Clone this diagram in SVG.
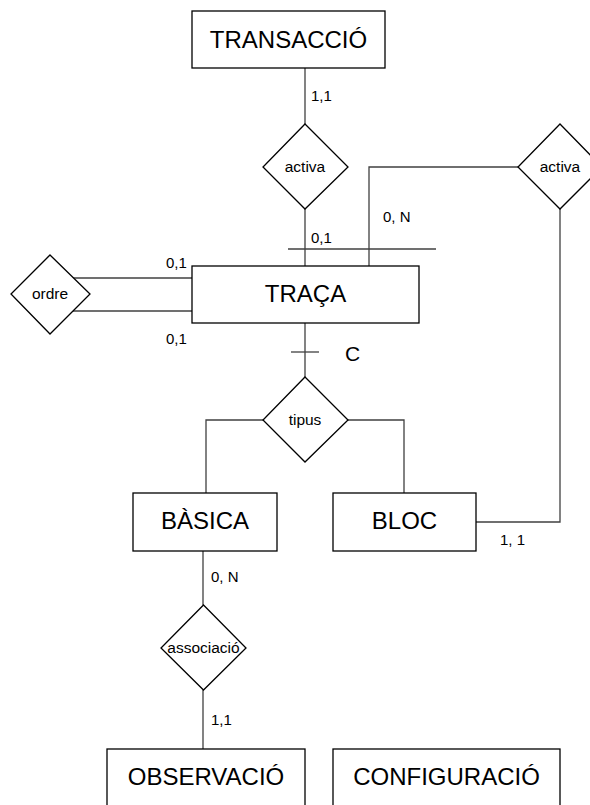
<svg xmlns="http://www.w3.org/2000/svg" width="590" height="805" viewBox="0 0 590 805">
<style>
.ent{fill:#fff;stroke:#000;stroke-width:1.3}
.rel{fill:#fff;stroke:#000;stroke-width:1.3}
.big{font-family:"Liberation Sans",Arial,sans-serif;font-size:24px;fill:#000;text-anchor:middle}
.sm{font-family:"Liberation Sans",Arial,sans-serif;font-size:15.5px;fill:#000;text-anchor:middle}
.lab{font-family:"Liberation Sans",Arial,sans-serif;font-size:15px;fill:#000}
#connectors line,#connectors polyline{stroke:#404040;stroke-width:1.3;fill:none}
</style>
<rect width="590" height="805" fill="#fff"/>
<g id="connectors">
<line x1="305" y1="68" x2="305" y2="124"/>
<line x1="305" y1="209" x2="305" y2="266"/>
<line x1="288" y1="249" x2="436" y2="249"/>
<polyline points="369,266 369,167 518,167"/>
<polyline points="560,209 560,522 476,522"/>
<line x1="73" y1="278" x2="192" y2="278"/>
<line x1="72" y1="311" x2="192" y2="311"/>
<line x1="305" y1="323" x2="305" y2="377"/>
<line x1="291" y1="352" x2="319" y2="352"/>
<polyline points="263,420 206,420 206,493"/>
<polyline points="348,420 404,420 404,493"/>
<line x1="203" y1="551" x2="203" y2="605"/>
<line x1="203" y1="690" x2="203" y2="749"/>
</g>
<g id="labels">
<text class="lab" x="311" y="101">1,1</text>
<text class="lab" x="311" y="243">0,1</text>
<text class="lab" x="383" y="222">0, N</text>
<text class="lab" x="166" y="268">0,1</text>
<text class="lab" x="166" y="344">0,1</text>
<text x="345" y="361" font-family="Liberation Sans,Arial,sans-serif" font-size="21">C</text>
<text class="lab" x="500" y="545">1, 1</text>
<text class="lab" x="211" y="582">0, N</text>
<text class="lab" x="211" y="725">1,1</text>
</g>
<g id="transaccio"><rect class="ent" x="192" y="11" width="193" height="57"/><text class="big" x="288.5" y="48">TRANSACCIÓ</text></g>
<g id="activa1"><polygon class="rel" points="305,124 348,167 305,209 263,167"/><text class="sm" x="305" y="172">activa</text></g>
<g id="activa2"><polygon class="rel" points="560,124 602,167 560,209 518,167"/><text class="sm" x="560" y="172">activa</text></g>
<g id="traca"><rect class="ent" x="192" y="266" width="227" height="57"/><text class="big" x="305.5" y="302">TRAÇA</text></g>
<g id="ordre"><polygon class="rel" points="50,255 90,294 50,334 11,294"/><text class="sm" x="50" y="299">ordre</text></g>
<g id="tipus"><polygon class="rel" points="305,377 348,420 305,462 263,420"/><text class="sm" x="305" y="425">tipus</text></g>
<g id="basica"><rect class="ent" x="133" y="493" width="144" height="58"/><text class="big" x="205" y="529">BÀSICA</text></g>
<g id="bloc"><rect class="ent" x="333" y="493" width="143" height="58"/><text class="big" x="404.5" y="529">BLOC</text></g>
<g id="associacio"><polygon class="rel" points="203.5,605 246,648 203.5,690 161,648"/><text class="sm" x="203.5" y="653">associació</text></g>
<g id="observacio"><rect class="ent" x="107" y="749" width="198" height="70"/><text class="big" x="206" y="785">OBSERVACIÓ</text></g>
<g id="configuracio"><rect class="ent" x="333" y="749" width="227" height="70"/><text class="big" x="446.5" y="785">CONFIGURACIÓ</text></g>
</svg>
